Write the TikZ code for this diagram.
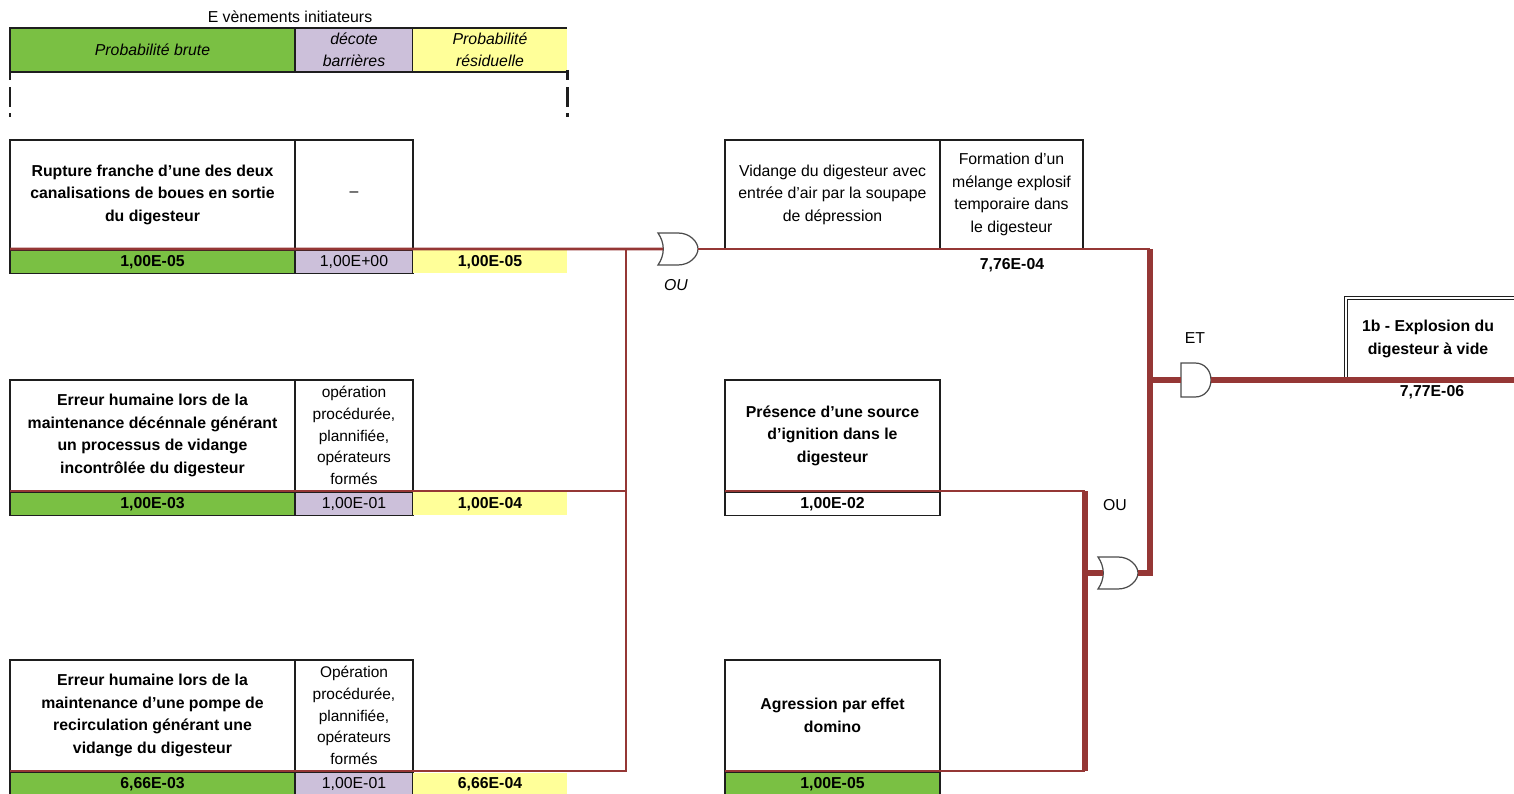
\documentclass[tikz,border=0pt]{standalone}
\usepackage{fontspec}
\setmainfont{Liberation Sans}
\usetikzlibrary{positioning}

\definecolor{vertcell}{RGB}{122,192,67}
\definecolor{mauve}{RGB}{204,192,218}
\definecolor{jaune}{RGB}{255,255,153}
\definecolor{bordeaux}{RGB}{149,55,53}
\definecolor{trait}{RGB}{30,30,30}

\newcommand{\fsbox}{\fontsize{9}{12.8}\selectfont}
\newcommand{\fsbar}{\fontsize{8.8}{12.4}\selectfont}

\tikzset{
  cellule/.style={rectangle, inner sep=0pt, outer sep=0pt, anchor=north west, align=center, font=\fsbox},
  boite/.style={cellule, draw=trait, line width=0.6pt},
  texte/.style={inner sep=0pt, align=center, font=\fsbox},
  lien/.style={draw=bordeaux, line width=1.6pt},
  lienfort/.style={draw=bordeaux, line width=2.9pt},
  pointille/.style={draw=trait, line width=1.7pt, dash pattern=on 5.7pt off 4pt on 11.4pt off 3.4pt on 2.3pt off 20pt},
  porte/.style={draw=trait!80, line width=0.7pt, fill=white},
  pics/ougate/.style={code={
    \draw[porte] (-20,-16) -- (0,-16) .. controls (12,-16) and (20,-7) .. (20,0)
      .. controls (20,7) and (12,16) .. (0,16) -- (-20,16)
      .. controls (-13,6) and (-13,-6) .. (-20,-16) -- cycle;
    \coordinate (-in) at (-15,0);
    \coordinate (-out) at (20,0);
  }},
  pics/etgate/.style={code={
    \draw[porte] (-15,-17) -- (-1,-17) .. controls (9,-17) and (15,-9) .. (15,0)
      .. controls (15,9) and (9,17) .. (-1,17) -- (-15,17) -- cycle;
    \coordinate (-in) at (-15,0);
    \coordinate (-out) at (15,0);
  }}
}

\begin{document}
\begin{tikzpicture}[x=0.2mm, y=-0.2mm]
  \useasboundingbox (0,0) rectangle (1514,794);
  \clip (0,0) rectangle (1514,794);

  % en-tete
  \node[texte] (titre) at (290,17) {E vènements initiateurs};
  \node[boite, fill=vertcell, minimum width=57mm, minimum height=8.8mm, font=\fsbox\itshape] (hbrute) at (10,28) {Probabilité brute};
  \node[boite, fill=mauve, minimum width=23.6mm, minimum height=8.8mm, font=\fsbox\itshape, right=0pt of hbrute] (hdecote) {décote\\barrières};
  \node[cellule, fill=jaune, minimum width=30.8mm, minimum height=8.8mm, font=\fsbox\itshape, right=0pt of hdecote] (hresid) {Probabilité\\résiduelle};
  \draw[trait, line width=0.6pt] (hbrute.north west) -- (hresid.north east) (hbrute.south west) -- (hresid.south east);
  \draw[pointille] (hbrute.south west) ++(0,-2) -- ++(0,48);
  \draw[pointille] (hresid.south east) ++(0,-2) -- ++(0,48);

  % evenement 1
  \node[boite, minimum width=57mm, minimum height=21.8mm, font=\fsbox\bfseries] (ev1) at (10,140) {Rupture franche d'une des deux\\canalisations de boues en sortie\\du digesteur};
  \node[boite, minimum width=23.6mm, minimum height=21.8mm, right=0pt of ev1] (bar1) {–};
  \node[boite, fill=vertcell, minimum width=57mm, minimum height=4.6mm, font=\fsbox\bfseries, below right=0.3mm and 0pt of ev1.south west] (pb1) {1,00E-05};
  \node[boite, fill=mauve, minimum width=23.6mm, minimum height=4.6mm, right=0pt of pb1] (dc1) {1,00E+00};
  \node[cellule, fill=jaune, minimum width=30.8mm, minimum height=4.6mm, font=\fsbox\bfseries, right=0pt of dc1] (pr1) {1,00E-05};

  % evenement 2
  \node[boite, minimum width=57mm, minimum height=22.2mm, font=\fsbox\bfseries] (ev2) at (10,380) {Erreur humaine lors de la\\maintenance décénnale générant\\un processus de vidange\\incontrôlée du digesteur};
  \node[boite, minimum width=23.6mm, minimum height=22.2mm, font=\fsbar, right=0pt of ev2] (bar2) {opération\\procédurée,\\plannifiée,\\opérateurs\\formés};
  \node[boite, fill=vertcell, minimum width=57mm, minimum height=4.6mm, font=\fsbox\bfseries, below right=0.3mm and 0pt of ev2.south west] (pb2) {1,00E-03};
  \node[boite, fill=mauve, minimum width=23.6mm, minimum height=4.6mm, right=0pt of pb2] (dc2) {1,00E-01};
  \node[cellule, fill=jaune, minimum width=30.8mm, minimum height=4.6mm, font=\fsbox\bfseries, right=0pt of dc2] (pr2) {1,00E-04};

  % evenement 3
  \node[boite, minimum width=57mm, minimum height=22.2mm, font=\fsbox\bfseries] (ev3) at (10,660) {Erreur humaine lors de la\\maintenance d'une pompe de\\recirculation générant une\\vidange du digesteur};
  \node[boite, minimum width=23.6mm, minimum height=22.2mm, font=\fsbar, right=0pt of ev3] (bar3) {Opération\\procédurée,\\plannifiée,\\opérateurs\\formés};
  \node[boite, fill=vertcell, minimum width=57mm, minimum height=4.6mm, font=\fsbox\bfseries, below right=0.3mm and 0pt of ev3.south west] (pb3) {6,66E-03};
  \node[boite, fill=mauve, minimum width=23.6mm, minimum height=4.6mm, right=0pt of pb3] (dc3) {1,00E-01};
  \node[cellule, fill=jaune, minimum width=30.8mm, minimum height=4.6mm, font=\fsbox\bfseries, right=0pt of dc3] (pr3) {6,66E-04};

  % branche du milieu
  \node[boite, minimum width=43mm, minimum height=21.8mm] (vid) at (725,140) {Vidange du digesteur avec\\entrée d'air par la soupape\\de dépression};
  \node[boite, minimum width=28.6mm, minimum height=21.8mm, right=0pt of vid] (melange) {Formation d'un\\mélange explosif\\temporaire dans\\le digesteur};
  \node[texte, font=\fsbox\bfseries] (pmel) at (1012,265) {7,76E-04};

  \node[boite, minimum width=43mm, minimum height=22.2mm, font=\fsbox\bfseries] (ign) at (725,380) {Présence d'une source\\d'ignition dans le\\digesteur};
  \node[boite, minimum width=43mm, minimum height=4.6mm, font=\fsbox\bfseries, below right=0.3mm and 0pt of ign.south west] (pign) {1,00E-02};
  \node[boite, minimum width=43mm, minimum height=22.2mm, font=\fsbox\bfseries] (domino) at (725,660) {Agression par effet\\domino};
  \node[boite, fill=vertcell, minimum width=43mm, minimum height=4.6mm, font=\fsbox\bfseries, below right=0.3mm and 0pt of domino.south west] (pdom) {1,00E-05};

  % evenement redoute
  \node[cellule, draw=trait, double, double distance=1.4pt, line width=0.5pt, minimum width=60mm, minimum height=16.4mm] (sortie) at (1346,298) {};
  \node[texte, font=\fsbox\bfseries] (tsortie) at (1428,339) {1b - Explosion du\\digesteur à vide};
  \node[texte, font=\fsbox\bfseries] (psortie) at (1432,392) {7,77E-06};

  % portes
  \pic (ou1) at (678,249) {ougate};
  \pic (ou2) at (1118,573) {ougate};
  \pic (et) at (1196,380) {etgate};
  \node[texte, font=\fsbox\itshape] (lou1) at (676,285) {OU};
  \node[texte] (lou2) at (1115,505) {OU};
  \node[texte] (let) at (1195,338) {ET};

  \coordinate (busg) at (626,0);
  \coordinate (busm) at (1085,0);
  \coordinate (busd) at (1150,0);

  % liaisons
  \draw[lien] (ev1.south west) -- (ou1-in);
  \draw[lien] (ev2.south west) -- (ev2.south west -| busg);
  \draw[lien] (ev3.south west) -| (ev1.south west -| busg);
  \draw[lien] (ou1-out) -- (ou1-out -| busd);
  \draw[lienfort] (ou1-out -| busd) |- (ou2-out);
  \draw[lienfort] (et-in -| busd) -- (et-in);
  \draw[lienfort] (et-out) -- (et-out -| sortie.east);
  \draw[lien] (ign.south west) -- (ign.south west -| busm);
  \draw[lien] (domino.south west) -- (domino.south west -| busm);
  \draw[lienfort] (ign.south west -| busm) -- (domino.south west -| busm);
  \draw[lienfort] (ou2-in -| busm) -- (ou2-in);
\end{tikzpicture}
\end{document}
